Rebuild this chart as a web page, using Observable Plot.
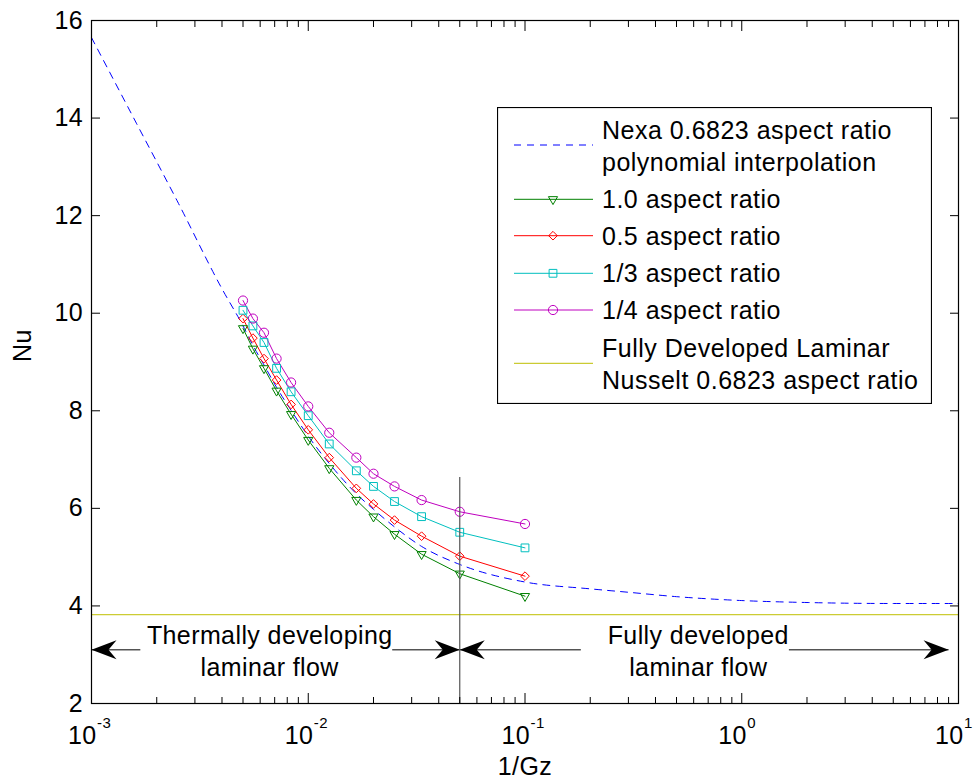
<!DOCTYPE html>
<html>
<head>
<meta charset="utf-8">
<script src="https://cdn.jsdelivr.net/npm/d3@7"></script>
<script src="https://cdn.jsdelivr.net/npm/@observablehq/plot@0.6"></script>
<style>
  html, body { margin: 0; padding: 0; background: #fff; }
  #wrap { position: relative; width: 976px; height: 782px; font-family: "Liberation Sans", Arial, sans-serif; }
  #legend { position: absolute; left: 497px; top: 107px; }
</style>
</head>
<body>
<div id="wrap"></div>
<script>
// ---------- data ----------
const invGz = [1/200, 1/180, 1/160, 1/140, 1/120, 1/100, 1/80, 1/60, 1/50, 1/40, 1/30, 1/20, 1/10];
const nuAR100 = [9.69, 9.27, 8.87, 8.41, 7.93, 7.40, 6.82, 6.17, 5.83, 5.47, 5.06, 4.66, 4.20];
const nuAR050 = [9.89, 9.49, 9.07, 8.63, 8.13, 7.61, 7.04, 6.41, 6.09, 5.76, 5.43, 5.02, 4.61];
const nuAR033 = [10.06, 9.74, 9.40, 8.87, 8.39, 7.90, 7.32, 6.77, 6.45, 6.14, 5.83, 5.51, 5.19];
const nuAR025 = [10.26, 9.89, 9.60, 9.07, 8.58, 8.09, 7.55, 7.04, 6.71, 6.45, 6.17, 5.93, 5.68];
const seriesNames = ["1.0 aspect ratio", "0.5 aspect ratio", "1/3 aspect ratio", "1/4 aspect ratio"];
const seriesColors = ["#008000", "#ff0000", "#00bfbf", "#bf00bf"];

const nexaX  = [0.001, 0.0016, 0.0025, 0.004, 1/200, 1/180, 1/160, 1/140, 1/120, 1/100, 1/80, 1/60, 1/50, 1/40, 1/30, 1/20, 1/10, 0.2, 0.3, 0.5, 1, 2, 5, 10];
const nexaNu = [15.65, 13.92, 12.28, 10.50, 9.74, 9.34, 8.94, 8.48, 8.01, 7.48, 6.92, 6.30, 5.98, 5.62, 5.22, 4.85, 4.49, 4.35, 4.28, 4.19, 4.11, 4.07, 4.05, 4.05];
const nexaLabel = ["Nexa 0.6823 aspect ratio", "polynomial interpolation"];

const fullyDevNu = 3.82;
const fullyDevLabel = ["Fully Developed Laminar", "Nusselt 0.6823 aspect ratio"];
const boundaryX = [0.05];
const boundaryNu = [2, 6.63];

const arrowNu = 3.1;
const arrowSegX1 = [0.001, 0.0244, 0.05, 1.65];
const arrowSegX2 = [0.00168, 0.05, 0.181, 9];
const arrowTipX = [0.001, 0.05, 0.05, 9];
const arrowTipAngle = [180, 0, 180, 0];
const annotationText = ["Thermally developing\nlaminar flow", "Fully developed\nlaminar flow"];
const annotationX = [0.00664, 0.63];

const xMajorTicks = [0.001, 0.01, 0.1, 1, 10];
const xMinorTicks = [0.001, 0.01, 0.1, 1].flatMap(d => [2, 3, 4, 5, 6, 7, 8, 9].map(k => k * d));
const yTicks = [2, 4, 6, 8, 10, 12, 14, 16];
const xLabel = "1/Gz";
const yLabel = "Nu";

// ---------- build tables ----------
const seriesValues = [nuAR100, nuAR050, nuAR033, nuAR025];
const seriesRows = seriesValues.map((vals, s) => invGz.map((x, i) => ({x, nu: vals[i], s})));
const nexaRows = nexaX.map((x, i) => ({x, nu: nexaNu[i]}));
const arrowSegs = arrowSegX1.map((x1, i) => ({x1, x2: arrowSegX2[i], y: arrowNu}));
const arrowTips = arrowTipX.map((x, i) => ({x, y: arrowNu, a: arrowTipAngle[i]}));
const annotations = annotationText.map((t, i) => ({x: annotationX[i], y: arrowNu, t}));

const markerStyle = [
  {symbol: "triangle", r: 3.4, rotate: 180},
  {symbol: "diamond2", r: 3.9, rotate: 0},
  {symbol: "square", r: 4.4, rotate: 0},
  {symbol: "circle", r: 4.6, rotate: 0}
];

// filled MATLAB-style arrow head, tip at origin pointing to +x
const arrowHead = {
  draw(ctx) {
    ctx.moveTo(0, 0);
    ctx.lineTo(-25, -9.5);
    ctx.lineTo(-17, 0);
    ctx.lineTo(-25, 9.5);
    ctx.closePath();
  }
};

const FONT = "Liberation Sans, Arial, sans-serif";

const marks = [
  Plot.ruleY([fullyDevNu], {stroke: "#bfbf00", strokeWidth: 1}),
  Plot.link(arrowSegs, {x1: "x1", x2: "x2", y1: "y", y2: "y", stroke: "black", strokeWidth: 1}),
  Plot.dot(arrowTips, {x: "x", y: "y", rotate: "a", symbol: arrowHead, r: 5, fill: "black", stroke: "none"}),
  Plot.text(annotations, {x: "x", y: "y", text: "t", fontSize: 25, lineHeight: 1.26, lineAnchor: "middle", textAnchor: "middle", fill: "black"}),
  Plot.line(nexaRows, {x: "x", y: "nu", stroke: "#0000ff", strokeWidth: 1, strokeDasharray: "7,6", curve: "monotone-x"}),
  ...seriesRows.map((rows, s) => Plot.line(rows, {x: "x", y: "nu", stroke: seriesColors[s], strokeWidth: 1})),
  ...seriesRows.map((rows, s) => Plot.dot(rows, {x: "x", y: "nu", stroke: seriesColors[s], fill: "none", strokeWidth: 1,
    symbol: markerStyle[s].symbol, r: markerStyle[s].r, rotate: markerStyle[s].rotate})),
  Plot.ruleX(boundaryX, {y1: boundaryNu[0], y2: boundaryNu[1], stroke: "#555", strokeWidth: 1.2}),
  Plot.axisX(xMajorTicks, {anchor: "bottom", tickSize: -10, tickFormat: () => "", stroke: "black"}),
  Plot.axisX(xMinorTicks, {anchor: "bottom", tickSize: -6, tickFormat: () => "", stroke: "black"}),
  Plot.axisX(xMajorTicks, {anchor: "top", tickSize: -10, tickFormat: () => "", stroke: "black"}),
  Plot.axisX(xMinorTicks, {anchor: "top", tickSize: -6, tickFormat: () => "", stroke: "black"}),
  Plot.axisX(xMajorTicks, {anchor: "bottom", tickSize: 0, tickPadding: 22.5, tickFormat: () => "10", textAnchor: "end", dx: 5, fontSize: 25, fill: "black"}),
  Plot.axisX(xMajorTicks, {anchor: "bottom", tickSize: 0, tickPadding: 13.5, tickFormat: d => String(Math.round(Math.log10(d))), textAnchor: "start", dx: 5.5, fontSize: 15, fill: "black"}),
  Plot.axisY(yTicks, {anchor: "left", tickSize: -9, tickFormat: () => "", stroke: "black"}),
  Plot.axisY(yTicks, {anchor: "right", tickSize: -9, tickFormat: () => "", stroke: "black"}),
  Plot.axisY(yTicks, {anchor: "left", tickSize: 0, tickPadding: 8.5, fontSize: 25, fill: "black"}),
  Plot.text([yLabel], {frameAnchor: "left", text: d => d, rotate: -90, dx: -68.5, fontSize: 25, lineAnchor: "middle", fill: "black"}),
  Plot.text([xLabel], {frameAnchor: "bottom", text: d => d, dy: 63, fontSize: 25, lineAnchor: "middle", fill: "black"}),
  Plot.frame({stroke: "black", strokeWidth: 1.2})
];

const chart = Plot.plot({
  width: 976,
  height: 782,
  marginLeft: 91,
  marginRight: 18,
  marginTop: 20,
  marginBottom: 79,
  x: {type: "log", domain: [0.001, 10], label: null},
  y: {domain: [2, 16], label: null},
  style: {fontFamily: FONT, background: "white", color: "black", overflow: "visible", letterSpacing: "0.4px"},
  marks
});

const wrap = document.getElementById("wrap");
wrap.appendChild(chart);

// ---------- legend (overlay box, top right) ----------
const legendW = 435, legendH = 297;
const legendRows = [
  {lines: nexaLabel, color: "#0000ff", dash: "7,6", marker: null, cy: 38},
  ...seriesNames.map((n, s) => ({lines: [n], color: seriesColors[s], dash: null, marker: s, cy: [92.3, 128.7, 166.3, 203][s]})),
  {lines: fullyDevLabel, color: "#bfbf00", dash: null, marker: null, cy: 256.3}
];
const lsvg = d3.create("svg")
  .attr("id", "legend")
  .attr("width", legendW).attr("height", legendH)
  .style("font-family", FONT).style("letter-spacing", "0.5px");
lsvg.append("rect").attr("x", 0.5).attr("y", 0.5).attr("width", legendW - 1).attr("height", legendH - 1)
  .attr("fill", "white").attr("stroke", "black").attr("stroke-width", 1.2);
const symbolTypes = {triangle: d3.symbolTriangle, diamond2: d3.symbolDiamond2, square: d3.symbolSquare, circle: d3.symbolCircle};
for (const row of legendRows) {
  lsvg.append("line").attr("x1", 17).attr("x2", 96).attr("y1", row.cy).attr("y2", row.cy)
    .attr("stroke", row.color).attr("stroke-width", 1).attr("stroke-dasharray", row.dash);
  if (row.marker !== null) {
    const m = markerStyle[row.marker];
    lsvg.append("path")
      .attr("d", d3.symbol(symbolTypes[m.symbol], m.r * m.r * Math.PI)())
      .attr("transform", `translate(56,${row.cy}) rotate(${m.rotate})`)
      .attr("fill", "none").attr("stroke", row.color).attr("stroke-width", 1);
  }
  const offsets = row.lines.length === 2 ? [-15, 17] : [0];
  row.lines.forEach((t, i) => {
    lsvg.append("text").attr("x", 105).attr("y", row.cy + offsets[i] + 9)
      .attr("font-size", 25).attr("fill", "black").text(t);
  });
}
wrap.appendChild(lsvg.node());
</script>
</body>
</html>
